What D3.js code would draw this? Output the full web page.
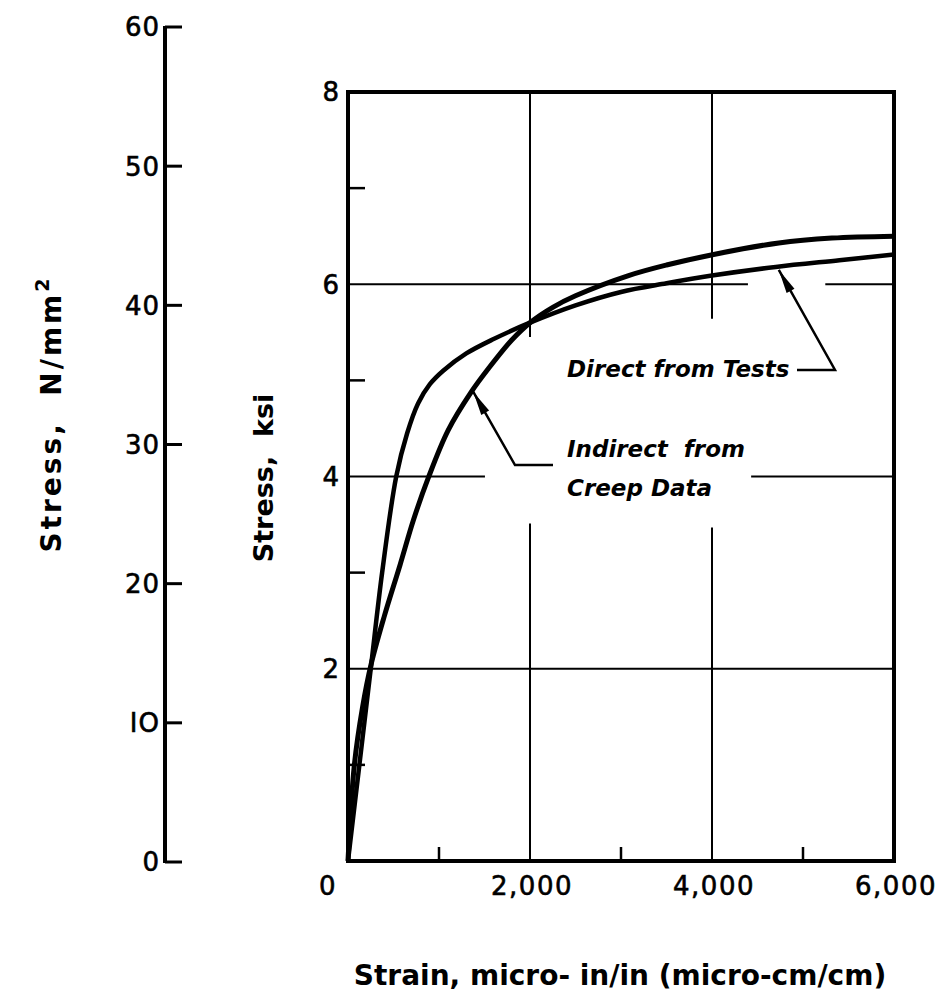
<!DOCTYPE html>
<html>
<head>
<meta charset="utf-8">
<script src="https://cdn.jsdelivr.net/npm/d3@7"></script>
<style>
  html, body { margin: 0; padding: 0; background: #fff; }
  svg { display: block; }
  text { font-family: "DejaVu Sans", sans-serif; fill: #000; }
  .tick { stroke: #000; stroke-width: 0.6px; }
</style>
</head>
<body>
<div id="chart"></div>
<script>
// Stress–strain curves for concrete: measured directly vs. derived from creep data
const strainTicks = [0, 2000, 4000, 6000];
const strainTickLabels = ["0", "2,000", "4,000", "6,000"];
const strainMinor = [1000, 3000, 5000];
const ksiTicks = [2, 4, 6, 8];
const ksiMinor = [1, 3, 5, 7];
const mpaTicks = [0, 10, 20, 30, 40, 50, 60];
const mpaTickLabels = ["0", "IO", "20", "30", "40", "50", "60"];

// strain (micro-in/in) and stress (ksi)
const directStrain = [0, 125, 250, 375, 530, 650, 770, 900, 1046, 1300, 1600, 2000, 2500, 3000, 3500, 4000, 4700, 5400, 6000];
const directStress = [0, 1.0, 2.0, 3.0, 4.0, 4.45, 4.76, 4.96, 5.10, 5.28, 5.43, 5.60, 5.78, 5.92, 6.01, 6.09, 6.18, 6.25, 6.31];

const indirectStrain = [0, 70, 160, 255, 400, 572, 720, 880, 1100, 1355, 1541, 1800, 2000, 2250, 2500, 3083, 3500, 4018, 4734, 5318, 6000];
const indirectStress = [0, 1.0, 1.6, 2.05, 2.55, 3.08, 3.55, 3.98, 4.48, 4.88, 5.12, 5.42, 5.60, 5.76, 5.88, 6.09, 6.20, 6.31, 6.43, 6.48, 6.50];

const W = 947, H = 1001;
const svg = d3.select("#chart").append("svg").attr("width", W).attr("height", H);

const x = d3.scaleLinear().domain([0, 6000]).range([348, 894]);
const y = d3.scaleLinear().domain([0, 8]).range([861, 92]);
const yN = d3.scaleLinear().domain([0, 60]).range([862, 27]);

const ink = "#000";

// ---- gridlines (broken where the annotations sit) ----
const grid = svg.append("g").attr("stroke", ink).attr("stroke-width", 2).attr("fill", "none");
// vertical grid segments: [strain, stress from, stress to]
const vSegs = [[2000, 0, 3.51], [2000, 5.45, 8], [4000, 0, 3.47], [4000, 5.64, 8]];
vSegs.forEach(([s, a, b]) => {
  grid.append("line").attr("x1", x(s)).attr("x2", x(s)).attr("y1", y(a)).attr("y2", y(b));
});
// horizontal grid segments: [stress, strain from, strain to]
const hSegs = [[2, 0, 6000], [4, 0, 1505], [4, 4430, 6000], [6, 0, 4395], [6, 5245, 6000]];
hSegs.forEach(([v, a, b]) => {
  grid.append("line").attr("x1", x(a)).attr("x2", x(b)).attr("y1", y(v)).attr("y2", y(v));
});

// ---- minor ticks inside the frame ----
const minor = svg.append("g").attr("stroke", ink).attr("stroke-width", 2.5);
ksiMinor.forEach(v => {
  minor.append("line").attr("x1", x(0)).attr("x2", x(0) + 17).attr("y1", y(v)).attr("y2", y(v));
});
strainMinor.forEach(s => {
  minor.append("line").attr("x1", x(s)).attr("x2", x(s)).attr("y1", y(0)).attr("y2", y(0) - 14);
});

// ---- frame ----
svg.append("rect")
  .attr("x", x(0)).attr("y", y(8))
  .attr("width", x(6000) - x(0)).attr("height", y(0) - y(8))
  .attr("fill", "none").attr("stroke", ink).attr("stroke-width", 4);

// ---- curves ----
const line = d3.line().x(d => x(d[0])).y(d => y(d[1])).curve(d3.curveCatmullRom.alpha(0.5));
const direct = directStrain.map((s, i) => [s, directStress[i]]);
const indirect = indirectStrain.map((s, i) => [s, indirectStress[i]]);
svg.append("path").datum(direct).attr("d", line)
  .attr("fill", "none").attr("stroke", ink).attr("stroke-width", 4.5).attr("stroke-linejoin", "round");
svg.append("path").datum(indirect).attr("d", line)
  .attr("fill", "none").attr("stroke", ink).attr("stroke-width", 5).attr("stroke-linejoin", "round");

// ---- left N/mm² axis ----
const leftX = 165;
const la = svg.append("g").attr("stroke", ink);
la.append("line").attr("x1", leftX).attr("x2", leftX).attr("y1", yN(60) - 1).attr("y2", yN(0) + 1).attr("stroke-width", 4);
mpaTicks.forEach(v => {
  la.append("line").attr("x1", leftX).attr("x2", leftX + 17).attr("y1", yN(v)).attr("y2", yN(v)).attr("stroke-width", 3);
});
svg.append("g").selectAll("text").data(mpaTicks).join("text")
  .attr("class", "tick")
  .attr("x", 160).attr("y", d => yN(d)).attr("dy", "0.36em")
  .attr("text-anchor", "end").attr("font-size", 26).attr("letter-spacing", 1)
  .text((d, i) => mpaTickLabels[i]);

// ---- ksi tick labels ----
svg.append("g").selectAll("text").data(ksiTicks).join("text")
  .attr("class", "tick")
  .attr("x", 339).attr("y", d => y(d)).attr("dy", "0.36em")
  .attr("text-anchor", "end").attr("font-size", 26)
  .text(d => d);

// ---- strain tick labels ----
svg.append("g").selectAll("text").data(strainTicks).join("text")
  .attr("class", "tick")
  .attr("x", (d, i) => i === 0 ? x(d) - 29 : x(d) + 2)
  .attr("y", 895)
  .attr("text-anchor", (d, i) => i === 0 ? "start" : "middle")
  .attr("font-size", 26).attr("letter-spacing", 1.5)
  .text((d, i) => strainTickLabels[i]);

// ---- axis titles ----
svg.append("text")
  .attr("transform", "translate(61,414) rotate(-90)")
  .attr("text-anchor", "middle").attr("font-size", 28).attr("font-weight", "bold")
  .attr("letter-spacing", 3)
  .html('Stress,&#160;&#160;N/mm<tspan dy="-12" font-size="19">2</tspan>');
svg.append("text")
  .attr("transform", "translate(273,478) rotate(-90)")
  .attr("text-anchor", "middle").attr("font-size", 27).attr("font-weight", "bold")
  .text("Stress,\u00a0 ksi");
svg.append("text")
  .attr("x", 620).attr("y", 985)
  .attr("text-anchor", "middle").attr("font-size", 28).attr("font-weight", "bold")
  .text("Strain, micro- in/in (micro-cm/cm)");

// ---- annotations with leader arrows ----
function arrow(tip, from) {
  const [tx, ty] = tip, [fx, fy] = from;
  const ang = Math.atan2(fy - ty, fx - tx);
  const L = 24, w = 4.5;
  const bx = tx + L * Math.cos(ang), by = ty + L * Math.sin(ang);
  const px = -Math.sin(ang) * w, py = Math.cos(ang) * w;
  svg.append("path")
    .attr("d", `M${tx},${ty}L${bx + px},${by + py}L${bx - px},${by - py}Z`)
    .attr("fill", ink);
}

// Direct from Tests
const dTip = [x(4734), y(6.18) + 3];
svg.append("path")
  .attr("d", `M${dTip[0]},${dTip[1]}L835,370L797,370`)
  .attr("fill", "none").attr("stroke", ink).attr("stroke-width", 2.5);
arrow(dTip, [835, 370]);
svg.append("text").attr("x", 567).attr("y", 377)
  .attr("font-size", 23).attr("font-style", "italic").attr("font-weight", 600)
  .text("Direct from Tests");

// Indirect from Creep Data
const iTip = [x(1355) + 2, y(4.88)];
svg.append("path")
  .attr("d", `M${iTip[0]},${iTip[1]}L515,465L553,465`)
  .attr("fill", "none").attr("stroke", ink).attr("stroke-width", 2.5);
arrow(iTip, [515, 465]);
svg.append("text").attr("x", 567).attr("y", 457)
  .attr("font-size", 23).attr("font-style", "italic").attr("font-weight", 600)
  .text("Indirect\u00a0 from");
svg.append("text").attr("x", 567).attr("y", 496)
  .attr("font-size", 23).attr("font-style", "italic").attr("font-weight", 600)
  .text("Creep Data");
</script>
</body>
</html>
